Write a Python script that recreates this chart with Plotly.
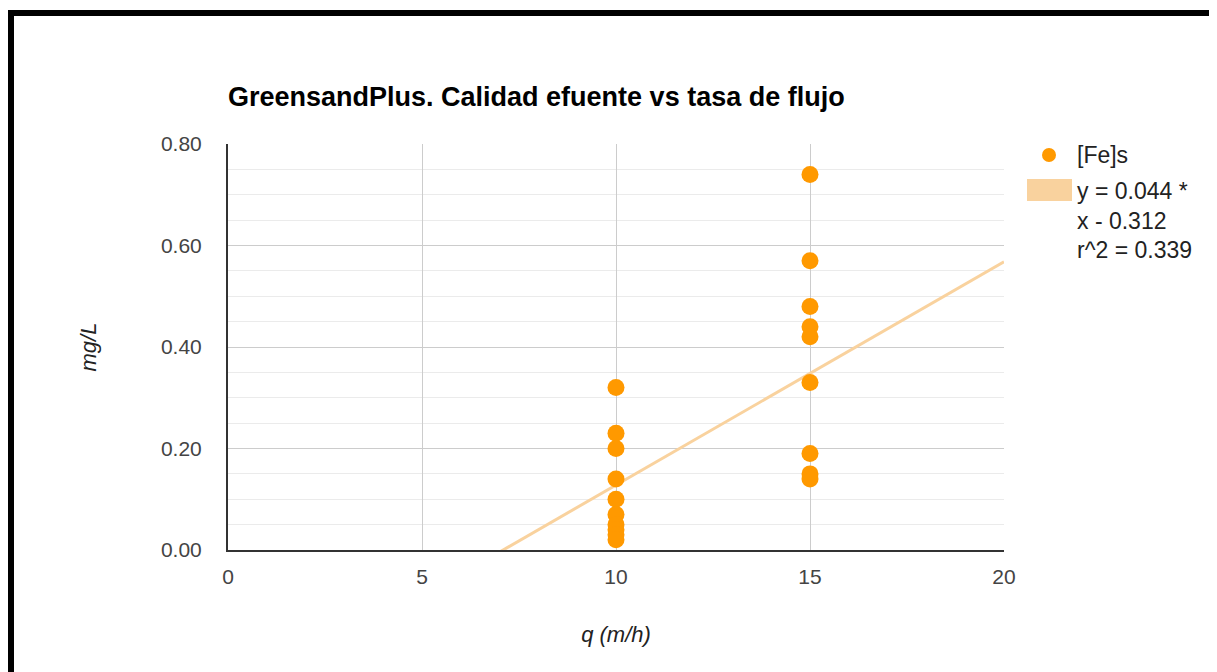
import plotly.graph_objects as go

# ---- data ----
q_values = [10, 10, 10, 10, 10, 10, 10, 10, 10, 10,
            15, 15, 15, 15, 15, 15, 15, 15, 15]
fe_values = [0.32, 0.23, 0.20, 0.14, 0.10, 0.07, 0.05, 0.04, 0.03, 0.02,
             0.74, 0.57, 0.48, 0.44, 0.42, 0.33, 0.19, 0.15, 0.14]
trend_slope = 0.044
trend_intercept = -0.312
trend_r2 = 0.339
x_ticks = [0, 5, 10, 15, 20]
y_ticks = [0.0, 0.2, 0.4, 0.6, 0.8]

title_text = "GreensandPlus. Calidad efuente vs tasa de flujo"
series_name = "[Fe]s"
trend_lines = ["y = 0.044 *", "x - 0.312", "r^2 = 0.339"]

# ---- layout geometry (page pixels; page body has an 8px margin) ----
OFF = 8
W, H = 1217 - OFF, 672 - OFF
L, R, T, B = 228, 1004, 144, 550
pw, ph = R - L, B - T

def px_x(px):
    return (px - L) / pw

def px_y(py):
    return (B - py) / ph

FONT = "Liberation Sans, Arial, sans-serif"
MARKER = "#FF9900"
TREND = "#F9D29E"

trend_x = [x_ticks[0], x_ticks[-1]]
trend_y = [trend_slope * x + trend_intercept for x in trend_x]

fig = go.Figure()
fig.add_trace(go.Scatter(
    x=trend_x, y=trend_y, mode="lines",
    line=dict(color=TREND, width=3), hoverinfo="skip", showlegend=False))
fig.add_trace(go.Scatter(
    x=q_values, y=fe_values, mode="markers", name=series_name,
    marker=dict(color=MARKER, size=17, line=dict(width=0)),
    showlegend=False))

shapes = [
    # outer black frame
    dict(type="rect", xref="paper", yref="paper",
         x0=px_x(11), x1=px_x(1214), y0=px_y(720), y1=px_y(13),
         line=dict(color="black", width=6), fillcolor="rgba(0,0,0,0)",
         layer="above"),
    # legend swatches
    dict(type="circle", xref="paper", yref="paper",
         x0=px_x(1042), x1=px_x(1056), y0=px_y(162), y1=px_y(148),
         line=dict(width=0), fillcolor=MARKER),
    dict(type="rect", xref="paper", yref="paper",
         x0=px_x(1027), x1=px_x(1072), y0=px_y(201), y1=px_y(179),
         line=dict(width=0), fillcolor=TREND),
]

annotations = [
    dict(text=series_name, xref="paper", yref="paper",
         x=px_x(1075), y=px_y(155), xanchor="left", yanchor="middle",
         showarrow=False, font=dict(family=FONT, size=23, color="#222222")),
]
for i, t in enumerate(trend_lines):
    annotations.append(dict(
        text=t, xref="paper", yref="paper",
        x=px_x(1075), y=px_y(191 + i * 29.5), xanchor="left", yanchor="middle",
        showarrow=False, font=dict(family=FONT, size=23, color="#222222")))

fig.update_layout(
    width=W, height=H,
    margin=dict(l=L - OFF, r=W - (R - OFF), t=T - OFF, b=H - (B - OFF), pad=0),
    paper_bgcolor="white", plot_bgcolor="white",
    font=dict(family=FONT, size=21, color="#444444"),
    title=dict(text="<b>" + title_text + "</b>", x=(L - OFF) / W, xanchor="left",
               xref="container", y=1 - (97 - OFF) / H, yanchor="middle",
               yref="container",
               font=dict(family=FONT, size=27, color="#000000")),
    xaxis=dict(range=[x_ticks[0], x_ticks[-1]], tickvals=x_ticks,
               showgrid=True, gridcolor="#cccccc", gridwidth=1,
               zeroline=False, showline=True, linecolor="#333333", linewidth=2,
               ticks="", ticklabelstandoff=7,
               tickfont=dict(family=FONT, size=21, color="#444444"),
               title=dict(text="<i>q (m/h)</i>", standoff=39,
                          font=dict(family=FONT, size=22, color="#222222"))),
    yaxis=dict(range=[y_ticks[0], y_ticks[-1]], tickvals=y_ticks,
               tickformat=".2f",
               showgrid=True, gridcolor="#cccccc", gridwidth=1,
               minor=dict(dtick=0.05, showgrid=True, gridcolor="#ebebeb",
                          gridwidth=1),
               zeroline=False, showline=True, linecolor="#333333", linewidth=2,
               ticks="", ticklabelstandoff=20,
               tickfont=dict(family=FONT, size=21, color="#444444"),
               title=dict(text="<i>mg/L</i>", standoff=58,
                          font=dict(family=FONT, size=22, color="#222222"))),
    shapes=shapes,
    annotations=annotations,
)

fig.write_html("out.html")
